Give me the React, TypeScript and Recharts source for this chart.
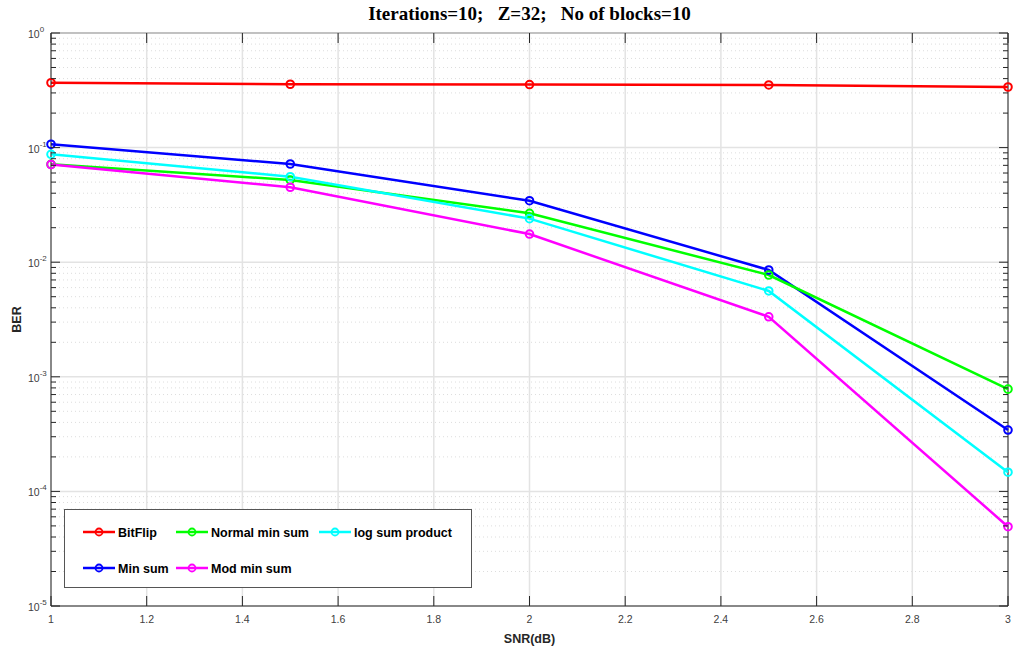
import React from 'react';
import { LineChart, Line, XAxis, YAxis, ReferenceLine, Legend } from 'recharts';

// SNR points (dB)
const snr = [1, 1.5, 2, 2.5, 3];

// BER per decoder
const bitFlip = [0.368, 0.357, 0.355, 0.352, 0.338];
const minSum = [0.107, 0.0719, 0.0344, 0.00855, 0.000343];
const normalMinSum = [0.0715, 0.0522, 0.0267, 0.00773, 0.00078];
const logSumProduct = [0.0874, 0.0557, 0.024, 0.00561, 0.000147];
const modMinSum = [0.0712, 0.0451, 0.0176, 0.00334, 0.0000492];

// Axis ticks
const xTicks = [1, 1.2, 1.4, 1.6, 1.8, 2, 2.2, 2.4, 2.6, 2.8, 3];
const decades = [1e-5, 1e-4, 1e-3, 1e-2, 1e-1, 1];
const decadeExponents = [-5, -4, -3, -2, -1, 0];
const minorMultipliers = [2, 3, 4, 5, 6, 7, 8, 9];
const minorTicks = decades.slice(0, -1).flatMap((d) => minorMultipliers.map((m) => +(m * d).toPrecision(3)));

const series = [
  { key: 'bitFlip', name: 'BitFlip', color: '#ff0000', values: bitFlip },
  { key: 'minSum', name: 'Min sum', color: '#0000ff', values: minSum },
  { key: 'normalMinSum', name: 'Normal min sum', color: '#00ff00', values: normalMinSum },
  { key: 'logSumProduct', name: 'log sum product', color: '#00ffff', values: logSumProduct },
  { key: 'modMinSum', name: 'Mod min sum', color: '#ff00ff', values: modMinSum },
];
const legendOrder = ['bitFlip', 'normalMinSum', 'logSumProduct', 'minSum', 'modMinSum'];

const data = snr.map((x, i) => {
  const row: Record<string, number> = { snr: x };
  series.forEach((s) => (row[s.key] = s.values[i]));
  return row;
});

// Layout
const W = 1016;
const H = 648;
const X_AXIS_H = 30;
const MARGIN = { top: 33, right: 8, bottom: 12, left: 0 };
const Y_AXIS_W = 51;
const PLOT_LEFT = MARGIN.left + Y_AXIS_W;
const PLOT_RIGHT = W - MARGIN.right;
const PLOT_TOP = MARGIN.top;

const AXIS_COLOR = '#262626';
const TICK_TEXT = '#404040';
const FONT = '"Liberation Sans", Arial, sans-serif';
const LINE_W = 2.5;

const XTick = (props: any) => {
  const { x, y, payload } = props;
  const v = payload.value as number;
  return (
    <g>
      <line x1={x} x2={x} y1={y} y2={y - 10} stroke={AXIS_COLOR} strokeWidth={1} />
      <line x1={x} x2={x} y1={PLOT_TOP} y2={PLOT_TOP + 10} stroke={AXIS_COLOR} strokeWidth={1} />
      <text x={x} y={y + 17} textAnchor="middle" fontSize={10.5} fill={TICK_TEXT} fontFamily={FONT}>
        {String(v)}
      </text>
    </g>
  );
};

const YTick = (props: any) => {
  const { x, y, payload } = props;
  const v = payload.value as number;
  const di = decades.findIndex((d) => Math.abs(d - v) / d < 1e-6);
  const major = di >= 0;
  const len = major ? 9 : 5;
  return (
    <g>
      <line x1={x} x2={x + len} y1={y} y2={y} stroke={AXIS_COLOR} strokeWidth={1} />
      <line x1={PLOT_RIGHT} x2={PLOT_RIGHT - len} y1={y} y2={y} stroke={AXIS_COLOR} strokeWidth={1} />
      {major && (
        <text x={x - 23} y={y + 5} fontSize={10.5} fill={TICK_TEXT} fontFamily={FONT}>
          10
          <tspan dy={-6} fontSize={8}>
            {String(decadeExponents[di])}
          </tspan>
        </text>
      )}
    </g>
  );
};

const LegendBox = () => {
  const cols = [19, 112, 255];
  const rows = [23, 59];
  const byKey = Object.fromEntries(series.map((s) => [s.key, s]));
  return (
    <svg width={408} height={80} style={{ display: 'block' }}>
      <rect x={0.5} y={0.5} width={407} height={78} fill="#ffffff" stroke="#555555" strokeWidth={1} />
      {legendOrder.map((k, i) => {
        const s = byKey[k];
        const cx = cols[i % 3];
        const cy = rows[Math.floor(i / 3)];
        return (
          <g key={k}>
            <line x1={cx} x2={cx + 32} y1={cy} y2={cy} stroke={s.color} strokeWidth={LINE_W} />
            <circle cx={cx + 16} cy={cy} r={3.5} fill="none" stroke={s.color} strokeWidth={1.8} />
            <text x={cx + 35} y={cy + 4.5} fontSize={12.5} fontWeight="bold" fill="#000" fontFamily={FONT}>
              {s.name}
            </text>
          </g>
        );
      })}
    </svg>
  );
};

export default function App() {
  return (
    <div style={{ position: 'absolute', left: 0, top: 0, width: W, height: H, background: '#fff' }}>
      <div
        style={{
          position: 'absolute',
          left: PLOT_LEFT,
          width: PLOT_RIGHT - PLOT_LEFT,
          top: 3,
          textAlign: 'center',
          fontFamily: '"Liberation Serif", "Times New Roman", serif',
          fontWeight: 'bold',
          fontSize: 19,
          whiteSpace: 'pre',
          color: '#000',
        }}
      >
        {'Iterations=10;   Z=32;   No of blocks=10'}
      </div>
      <LineChart width={W} height={H} data={data} margin={MARGIN} style={{ position: 'absolute', left: 0, top: 0 }}>
        {minorTicks.map((v) => (
          <ReferenceLine key={'my' + v} y={v} stroke="#dddddd" strokeDasharray="1 3" strokeWidth={1} />
        ))}
        {decades.map((v) => (
          <ReferenceLine key={'My' + v} y={v} stroke="#e3e3e3" strokeWidth={1.5} />
        ))}
        {xTicks.map((v) => (
          <ReferenceLine key={'Mx' + v} x={v} stroke="#e3e3e3" strokeWidth={1.5} />
        ))}
        <ReferenceLine y={1} stroke="#999999" strokeWidth={1} />
        <ReferenceLine x={3} stroke={AXIS_COLOR} strokeWidth={1} />
        <XAxis
          dataKey="snr"
          type="number"
          domain={[1, 3]}
          ticks={xTicks}
          interval={0}
          height={X_AXIS_H}
          tickLine={false}
          tickSize={0}
          tickMargin={0}
          axisLine={{ stroke: AXIS_COLOR, strokeWidth: 1 }}
          tick={<XTick />}
          label={{
            value: 'SNR(dB)',
            position: 'insideBottom',
            offset: -7,
            style: { fontFamily: FONT, fontWeight: 'bold', fontSize: 12.5, fill: '#262626' },
          }}
        />
        <YAxis
          scale="log"
          domain={[1e-5, 1]}
          ticks={[...decades, ...minorTicks]}
          interval={0}
          width={Y_AXIS_W}
          tickLine={false}
          tickSize={0}
          tickMargin={0}
          axisLine={{ stroke: AXIS_COLOR, strokeWidth: 1 }}
          tick={<YTick />}
          label={{
            value: 'BER',
            angle: -90,
            position: 'insideLeft',
            offset: 17,
            style: { fontFamily: FONT, fontWeight: 'bold', fontSize: 12.5, fill: '#262626', textAnchor: 'middle' },
          }}
        />
        {series.map((s) => (
          <Line
            key={s.key}
            dataKey={s.key}
            name={s.name}
            stroke={s.color}
            strokeWidth={LINE_W}
            type="linear"
            dot={{ r: 3.8, fill: 'none', stroke: s.color, strokeWidth: 2 }}
            activeDot={false}
            isAnimationActive={false}
          />
        ))}
        <Legend
          layout="horizontal"
          verticalAlign="middle"
          align="center"
          content={<LegendBox />}
          wrapperStyle={{ position: 'absolute', left: 64, top: 509, width: 408, height: 80 }}
        />
      </LineChart>
    </div>
  );
}
